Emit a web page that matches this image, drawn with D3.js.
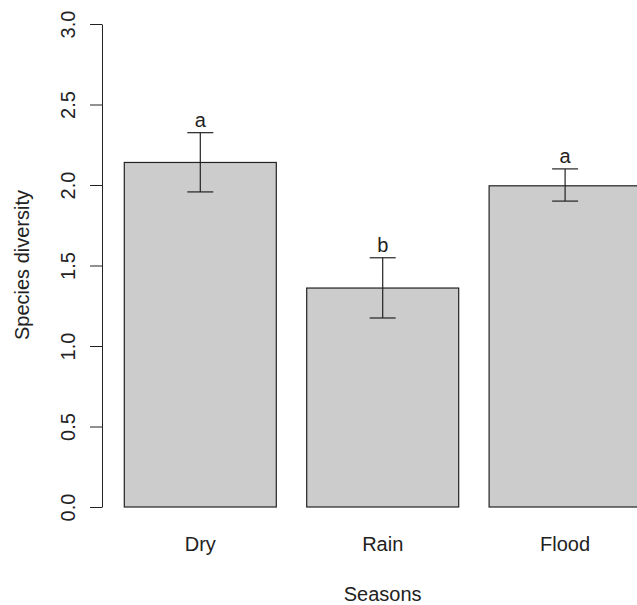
<!DOCTYPE html>
<html>
<head>
<meta charset="utf-8">
<script src="https://cdn.jsdelivr.net/npm/d3@7"></script>
<style>
  body { margin: 0; background: #fff; }
  svg { display: block; }
  text { font-family: "Liberation Sans", Arial, sans-serif; fill: #222; }
</style>
</head>
<body>
<div class="chart"></div>
<script>
// Species diversity by season (R-style barplot with error bars)

var seasons = ["Dry", "Rain", "Flood"];
var meanDiversity = [2.14, 1.36, 1.995];
var upperDiversity = [2.325, 1.548, 2.10];
var lowerDiversity = [1.957, 1.174, 1.90];
var groupLetters = ["a", "b", "a"];
var yTicks = [0, 0.5, 1.0, 1.5, 2.0, 2.5, 3.0];

var svgWidth = 637;
var svgHeight = 605;
var fontSize = 20;

var svg = d3.select(".chart")
    .append("svg")
    .attr("width", svgWidth)
    .attr("height", svgHeight);

var data = seasons.map(function(s, i) {
    return { season: s, mean: meanDiversity[i], hi: upperDiversity[i], lo: lowerDiversity[i], letter: groupLetters[i] };
});

// bars are 1 unit wide with 0.2 space, like barplot()
var xScale = d3.scaleBand()
    .domain(seasons)
    .range([124.3, 124.3 + 3 * 152 + 2 * 30.4])
    .paddingInner(0.2 / 1.2)
    .paddingOuter(0);

var yScale = d3.scaleLinear()
    .domain([0, 3])
    .range([507, 24]);

var chart = svg.append("g");

chart.selectAll("rect.bar")
    .data(data)
    .enter()
    .append("rect")
    .attr("class", "bar")
    .attr("x", function(d) { return xScale(d.season); })
    .attr("y", function(d) { return yScale(d.mean); })
    .attr("width", xScale.bandwidth())
    .attr("height", function(d) { return yScale(0) - yScale(d.mean); })
    .attr("fill", "#cccccc")
    .attr("stroke", "#222")
    .attr("stroke-width", 1.2);

// error bars
var capHalf = 13;
var err = chart.selectAll("g.err")
    .data(data)
    .enter()
    .append("g")
    .attr("class", "err")
    .attr("stroke", "#222")
    .attr("stroke-width", 1.2);

err.append("line")
    .attr("x1", function(d) { return xScale(d.season) + xScale.bandwidth() / 2; })
    .attr("x2", function(d) { return xScale(d.season) + xScale.bandwidth() / 2; })
    .attr("y1", function(d) { return yScale(d.lo); })
    .attr("y2", function(d) { return yScale(d.hi); });

err.append("line")
    .attr("x1", function(d) { return xScale(d.season) + xScale.bandwidth() / 2 - capHalf; })
    .attr("x2", function(d) { return xScale(d.season) + xScale.bandwidth() / 2 + capHalf; })
    .attr("y1", function(d) { return yScale(d.hi); })
    .attr("y2", function(d) { return yScale(d.hi); });

err.append("line")
    .attr("x1", function(d) { return xScale(d.season) + xScale.bandwidth() / 2 - capHalf; })
    .attr("x2", function(d) { return xScale(d.season) + xScale.bandwidth() / 2 + capHalf; })
    .attr("y1", function(d) { return yScale(d.lo); })
    .attr("y2", function(d) { return yScale(d.lo); });

// significance letters
chart.selectAll("text.letter")
    .data(data)
    .enter()
    .append("text")
    .attr("class", "letter")
    .attr("x", function(d) { return xScale(d.season) + xScale.bandwidth() / 2; })
    .attr("y", function(d) { return yScale(d.hi) - 5.5; })
    .attr("text-anchor", "middle")
    .style("font-size", fontSize + "px")
    .text(function(d) { return d.letter; });

// y axis
var leftAxis = d3.axisLeft(yScale)
    .tickValues(yTicks)
    .tickSize(12)
    .tickSizeOuter(0)
    .tickFormat(d3.format(".1f"));

var yAxisG = chart.append("g")
    .attr("transform", "translate(102,0)")
    .call(leftAxis);

yAxisG.selectAll("path, line").attr("stroke", "#222");
yAxisG.selectAll("text")
    .attr("transform", "rotate(-90)")
    .attr("x", 0)
    .attr("y", -27.5)
    .attr("dy", 0)
    .attr("text-anchor", "middle")
    .attr("fill", "#222")
    .style("font-size", fontSize + "px")
    .style("font-family", "'Liberation Sans', Arial, sans-serif");

// x labels (no axis line)
var bottomAxis = d3.axisBottom(xScale).tickSize(0);

var xAxisG = chart.append("g")
    .attr("transform", "translate(0,507)")
    .call(bottomAxis);

xAxisG.select(".domain").remove();
xAxisG.selectAll("text")
    .attr("y", 44)
    .attr("dy", 0)
    .attr("fill", "#222")
    .style("font-size", fontSize + "px")
    .style("font-family", "'Liberation Sans', Arial, sans-serif");

// axis titles
chart.append("text")
    .attr("transform", "translate(382.7,600.5)")
    .attr("text-anchor", "middle")
    .style("font-size", fontSize + "px")
    .text("Seasons");

chart.append("text")
    .attr("transform", "translate(28.5,265) rotate(-90)")
    .attr("text-anchor", "middle")
    .style("font-size", fontSize + "px")
    .text("Species diversity");
</script>
</body>
</html>
